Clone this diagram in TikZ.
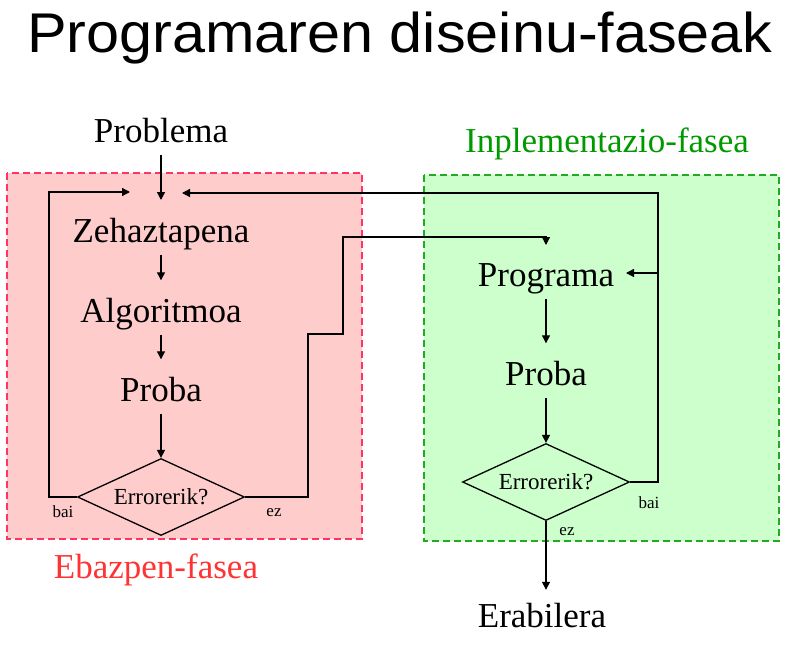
\documentclass[tikz,border=0pt]{standalone}
\usepackage{fontspec}
\setmainfont{Liberation Serif}
\newfontfamily\titlefont[FakeStretch=1.06]{Liberation Sans}
\usetikzlibrary{arrows.meta,shapes.geometric}

\definecolor{ebazfill}{HTML}{FFCCCC}
\definecolor{ebazline}{HTML}{FF3366}
\definecolor{ebaztext}{HTML}{FF3333}
\definecolor{inplfill}{HTML}{CCFFCC}
\definecolor{inplline}{HTML}{22AA22}
\definecolor{inpltext}{HTML}{009900}

\begin{document}
\begin{tikzpicture}[
        x=1pt, y=-1pt,
        stage/.style={anchor=base, inner xsep=2pt, inner ysep=5pt, text height=24pt, text depth=7.6pt, font=\fontsize{35}{40}\selectfont},
        decision/.style={diamond, draw, line width=1.3pt, inner sep=0pt, shape aspect=2.17, minimum width=167pt, minimum height=77pt, font=\fontsize{23}{26}\selectfont},
        answer/.style={anchor=base, inner sep=0pt, font=\fontsize{17}{20}\selectfont},
        phase/.style={dash pattern=on 7pt off 4pt, line width=1.3pt},
        phasename/.style={anchor=base, inner sep=0pt, font=\fontsize{35}{40}\selectfont},
        flow/.style={line width=1.3pt, -{Triangle[length=8pt,width=8pt]}},
        next/.style={flow, shorten >=12.5pt}
    ]
        \useasboundingbox (0,0) rectangle (792,645);

        % Phase frames
        \draw[phase, draw=ebazline, fill=ebazfill] (7,173) rectangle (362,539);
        \draw[phase, draw=inplline, fill=inplfill] (424,175) rectangle (779,541);

        % Title and phase names
        \node[anchor=base, inner sep=0pt, font=\titlefont\fontsize{56}{60}\selectfont] (title) at (400,52) {Programaren diseinu-faseak};
        \node[phasename, text=ebaztext] (ebazpen) at (156,578) {Ebazpen-fasea};
        \node[phasename, text=inpltext] (inplementazio) at (607,152) {Inplementazio-fasea};

        % Nodes
        \node[stage] (problema) at (161,142) {Problema};
        \node[stage] (zehaztapena) at (161,242) {Zehaztapena};
        \node[stage] (algoritmoa) at (161,322) {Algoritmoa};
        \node[stage] (probaL) at (161,401) {Proba};
        \node[decision] (errL) at (161,497) {Errorerik?};
        \node[stage] (programa) at (546,286) {Programa};
        \node[stage] (probaR) at (546,385) {Proba};
        \node[decision] (errR) at (546,482) {Errorerik?};
        \node[stage] (erabilera) at (542,627) {Erabilera};

        \node[answer] (baiL) at (63,517) {bai};
        \node[answer] (ezL) at (274,516) {ez};
        \node[answer] (baiR) at (649,508) {bai};
        \node[answer] (ezR) at (567,535) {ez};

        \coordinate (inTop) at (161,200);
        \coordinate (inLeft) at (130,192);
        \coordinate (inRight) at (182,193);
        \coordinate (inProg) at (546,245);
        \coordinate (forkR) at (658,273);
        \coordinate (backR) at (626,273);

        % Arrows
        \draw[flow] (problema.south) -- (inTop);
        \draw[next] (zehaztapena) -- (algoritmoa);
        \draw[next] (algoritmoa) -- (probaL);
        \draw[flow] (probaL) -- (errL);
        \draw[next] (programa) -- (probaR);
        \draw[flow] (probaR) -- (errR);
        \draw[flow, shorten >=8pt] (errR.south) -- (errR.south |- erabilera.north);

        % Loops
        \draw[flow] (errL.west) -| (49,192) -- (inLeft);
        \draw[flow] (errL.east) -| (308,334) -- (343,334) -- (343,237) -- (546,237) -- (inProg);
        \draw[flow] (errR.east) -| (forkR) |- (inRight);
        \draw[flow] (forkR) -- (backR);

    \end{tikzpicture}
\end{document}
